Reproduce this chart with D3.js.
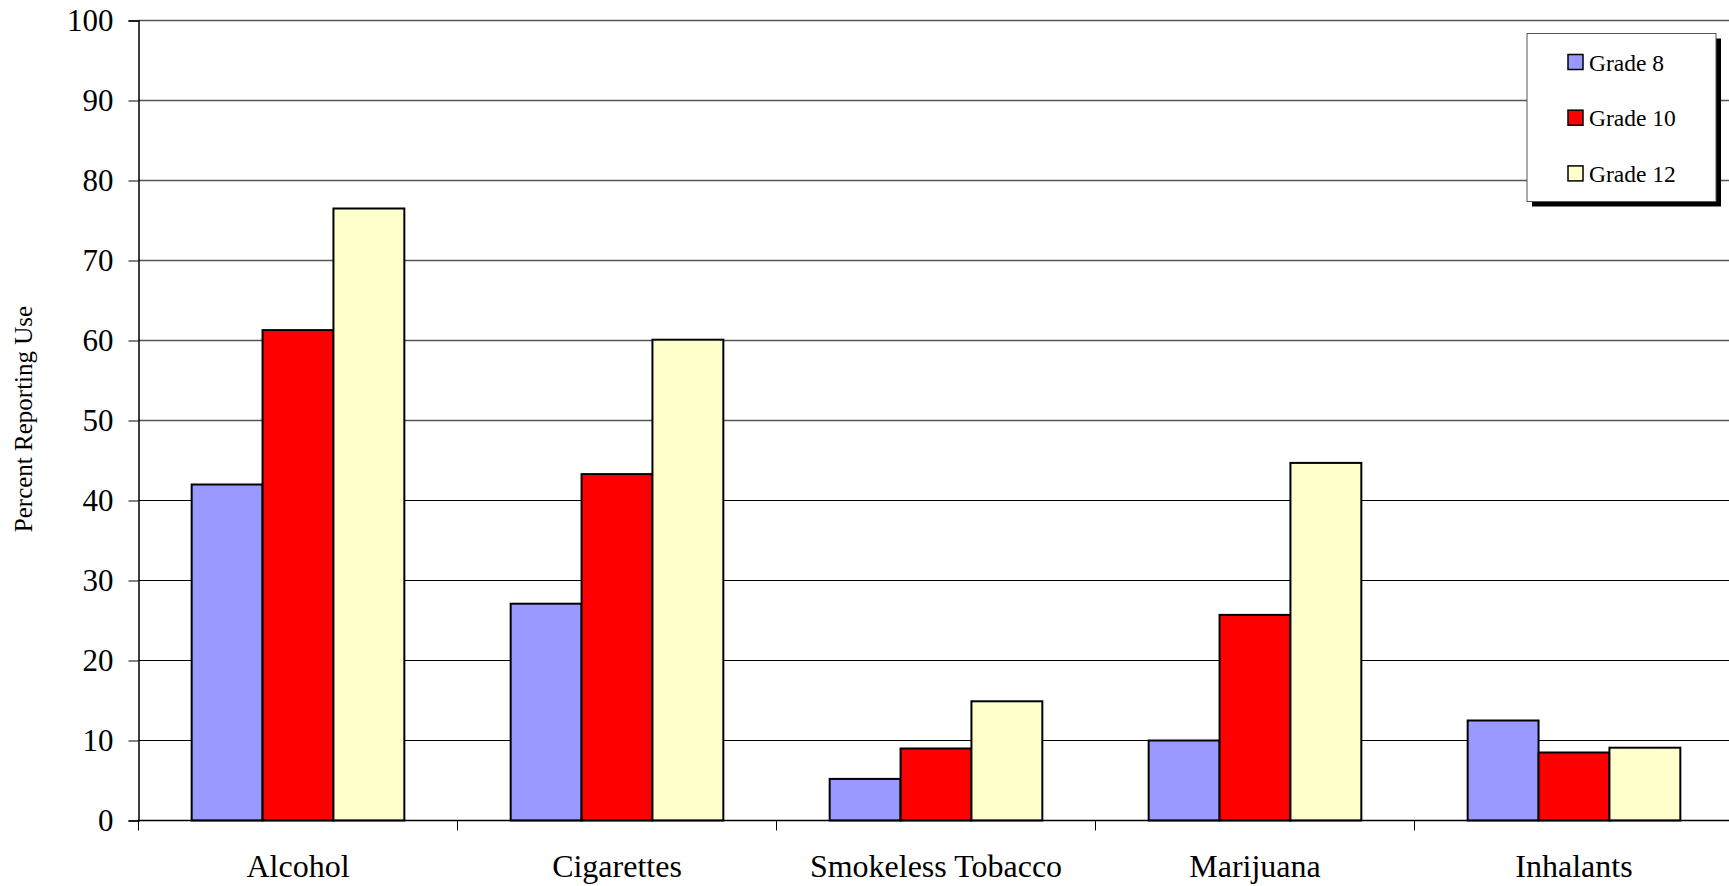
<!DOCTYPE html>
<html>
<head>
<meta charset="utf-8">
<script src="https://cdn.jsdelivr.net/npm/d3@7"></script>
<style>
  html, body { margin: 0; padding: 0; background: #fff; overflow: hidden; }
  svg { display: block; }
  svg text { font-family: "Liberation Serif", "Times New Roman", serif; fill: #000; }
</style>
</head>
<body>
<svg id="chart" width="1729" height="886"></svg>
<script>
// Substances surveyed
const categories = ["Alcohol", "Cigarettes", "Smokeless Tobacco", "Marijuana", "Inhalants"];
// Grade levels (series)
const grades = ["Grade 8", "Grade 10", "Grade 12"];
// Percent reporting use, per grade, in category order
const grade8  = [42.0, 27.1, 5.2, 10.0, 12.5];
const grade10 = [61.3, 43.3, 9.0, 25.7, 8.5];
const grade12 = [76.5, 60.1, 14.9, 44.7, 9.1];
// Y axis tick values
const yTicks = [0, 10, 20, 30, 40, 50, 60, 70, 80, 90, 100];

const seriesValues = [grade8, grade10, grade12];
const colors = ["#9999FF", "#FF0000", "#FFFFCC"];

const svg = d3.select("#chart");
const W = 1729;
const plotLeft = 138.5, plotTop = 20.5, plotBottom = 820.5;

const x0 = d3.scaleBand().domain(categories).range([plotLeft, plotLeft + 319 * categories.length]).padding(0);
const x1 = d3.scaleBand().domain(grades).range([0, x0.bandwidth()]).paddingInner(0).paddingOuter(0.75);
const y = d3.scaleLinear().domain([0, 100]).range([plotBottom, plotTop]);
const color = d3.scaleOrdinal().domain(grades).range(colors);

// Horizontal gridlines
svg.append("g")
  .selectAll("line")
  .data(yTicks.filter(d => d > 0))
  .join("line")
  .attr("x1", plotLeft).attr("x2", W)
  .attr("y1", d => y(d)).attr("y2", d => y(d))
  .attr("stroke", d => d >= 50 ? "#555" : "#000").attr("stroke-width", d => d >= 50 ? 1.4 : 1);

// Bars
const rows = categories.map((c, i) => ({ cat: c, vals: grades.map((g, j) => ({ g, v: seriesValues[j][i] })) }));
svg.append("g")
  .selectAll("g")
  .data(rows)
  .join("g")
  .attr("transform", d => `translate(${x0(d.cat)},0)`)
  .selectAll("rect")
  .data(d => d.vals)
  .join("rect")
  .attr("x", d => x1(d.g))
  .attr("width", x1.bandwidth())
  .attr("y", d => y(d.v))
  .attr("height", d => y(0) - y(d.v))
  .attr("fill", d => color(d.g))
  .attr("stroke", "#000")
  .attr("stroke-width", 2);

// Y axis
const yAxis = svg.append("g")
  .attr("transform", `translate(${plotLeft},0)`)
  .call(d3.axisLeft(y).tickValues(yTicks).tickSize(10).tickPadding(15).tickFormat(d3.format("d")));
yAxis.attr("font-family", null).attr("font-size", null);
yAxis.select(".domain").attr("stroke", "#000").attr("stroke-width", 1.5);
yAxis.selectAll(".tick line").attr("stroke", "#000");
yAxis.selectAll(".tick text").style("font-size", "31px");

// X axis with tick marks at category boundaries
const xAxis = svg.append("g").attr("transform", `translate(0,${plotBottom})`);
xAxis.append("line")
  .attr("x1", plotLeft).attr("x2", W)
  .attr("y1", 0).attr("y2", 0)
  .attr("stroke", "#000").attr("stroke-width", 1.5);
xAxis.selectAll("line.tk")
  .data(categories)
  .join("line")
  .attr("class", "tk")
  .attr("x1", d => x0(d)).attr("x2", d => x0(d))
  .attr("y1", 0).attr("y2", 10)
  .attr("stroke", "#000");
xAxis.selectAll("text")
  .data(categories)
  .join("text")
  .attr("x", d => x0(d) + x0.bandwidth() / 2)
  .attr("y", 56)
  .attr("text-anchor", "middle")
  .style("font-size", "32px")
  .text(d => d);

// Y axis title
svg.append("text")
  .attr("transform", "translate(32,419) rotate(-90)")
  .attr("text-anchor", "middle")
  .style("font-size", "25px")
  .text("Percent Reporting Use");

// Legend with drop shadow
const lg = svg.append("g").attr("transform", "translate(1527,33.5)");
lg.append("rect").attr("x", 5).attr("y", 5).attr("width", 189).attr("height", 168).attr("fill", "#000");
lg.append("rect").attr("x", 0).attr("y", 0).attr("width", 189).attr("height", 168)
  .attr("fill", "#fff").attr("stroke", "#555").attr("stroke-width", 1);
const items = lg.selectAll("g.item")
  .data(grades)
  .join("g")
  .attr("class", "item")
  .attr("transform", (d, i) => `translate(41,${28.5 + i * 55.7})`);
items.append("rect")
  .attr("x", 0).attr("y", -7.5).attr("width", 15).attr("height", 15)
  .attr("fill", d => color(d)).attr("stroke", "#000").attr("stroke-width", 1.5);
items.append("text")
  .attr("x", 21).attr("y", 8.5)
  .style("font-size", "23.5px")
  .text(d => d);
</script>
</body>
</html>
